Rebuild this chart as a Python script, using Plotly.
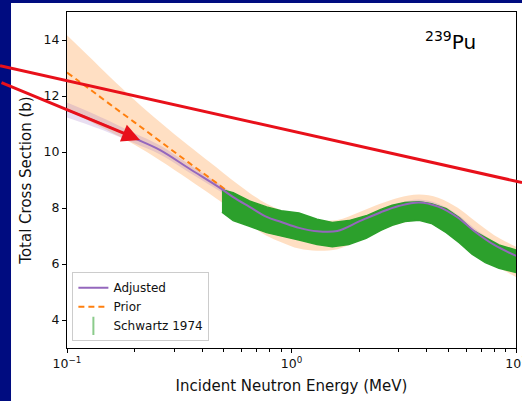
import plotly.graph_objects as go

# ---------------- data ----------------
energy = [0.1, 0.125, 0.155, 0.2, 0.26, 0.35, 0.48, 0.55, 0.65, 0.775, 0.9, 1.08,
          1.3, 1.6, 2.0, 2.5, 3.0, 3.7, 4.5, 5.5, 6.5, 8.0, 10.0]
adjusted = [11.50, 11.20, 10.89, 10.49, 10.07, 9.41, 8.72, 8.39, 8.04, 7.68, 7.50, 7.29,
            7.17, 7.18, 7.52, 7.85, 8.07, 8.20, 8.05, 7.66, 7.18, 6.68, 6.29]
adjusted_err = [0.27, 0.24, 0.21, 0.18, 0.16, 0.14, 0.12, 0.12, 0.11, 0.11, 0.10, 0.10,
                0.10, 0.10, 0.10, 0.10, 0.10, 0.10, 0.10, 0.10, 0.11, 0.12, 0.13]
prior = [12.84, 12.27, 11.71, 11.06, 10.38, 9.61, 8.80, 8.42, 7.98, 7.58, 7.35, 7.12,
         7.02, 7.05, 7.35, 7.68, 7.90, 8.02, 7.90, 7.52, 7.05, 6.50, 6.08]
prior_err = [1.33, 1.15, 0.98, 0.80, 0.68, 0.60, 0.55, 0.55, 0.56, 0.57, 0.57, 0.57,
             0.55, 0.52, 0.50, 0.48, 0.47, 0.46, 0.47, 0.49, 0.51, 0.53, 0.54]

schwartz_energy = [0.49, 0.55, 0.65, 0.775, 0.9, 1.08, 1.3, 1.52, 1.8, 2.15, 2.5, 2.81,
                   3.2, 3.7, 4.2, 4.89, 5.6, 6.37, 7.3, 8.4, 10.0]
schwartz_low = [7.85, 7.55, 7.35, 7.12, 7.00, 6.86, 6.70, 6.62, 6.70, 6.92, 7.20, 7.38,
                7.52, 7.56, 7.45, 7.12, 6.75, 6.35, 6.05, 5.85, 5.70]
schwartz_high = [8.65, 8.55, 8.25, 8.04, 7.90, 7.82, 7.60, 7.48, 7.55, 7.72, 7.95, 8.10,
                 8.20, 8.22, 8.15, 7.98, 7.65, 7.22, 6.95, 6.68, 6.50]

x_tickvals = [0.1, 1, 10]
x_ticktext = ["10<sup>\u22121</sup>", "10<sup>0</sup>", "10<sup>1</sup>"]
x_minor = [0.2, 0.3, 0.4, 0.5, 0.6, 0.7, 0.8, 0.9, 2, 3, 4, 5, 6, 7, 8, 9]
y_tickvals = [4, 6, 8, 10, 12, 14]

# ---------------- styles ----------------
C_ADJ = "#9467bd"
C_PRIOR = "#ff7f0e"
C_DATA = "#2ca02c"
NAVY = "#000c80"
RED = "#e8101a"
FONT = "DejaVu Sans"

fig = go.Figure()

# prior uncertainty band
fig.add_trace(go.Scatter(x=energy, y=[p - e for p, e in zip(prior, prior_err)],
                         mode="lines", line=dict(width=0, shape="spline"),
                         showlegend=False, hoverinfo="skip"))
fig.add_trace(go.Scatter(x=energy, y=[p + e for p, e in zip(prior, prior_err)],
                         mode="lines", line=dict(width=0, shape="spline"),
                         fill="tonexty", fillcolor="rgba(255,127,14,0.25)",
                         showlegend=False, hoverinfo="skip"))
# adjusted uncertainty band
fig.add_trace(go.Scatter(x=energy, y=[a - e for a, e in zip(adjusted, adjusted_err)],
                         mode="lines", line=dict(width=0, shape="spline"),
                         showlegend=False, hoverinfo="skip"))
fig.add_trace(go.Scatter(x=energy, y=[a + e for a, e in zip(adjusted, adjusted_err)],
                         mode="lines", line=dict(width=0, shape="spline"),
                         fill="tonexty", fillcolor="rgba(148,103,189,0.22)",
                         showlegend=False, hoverinfo="skip"))
# prior line
fig.add_trace(go.Scatter(x=energy, y=prior, mode="lines", name="Prior",
                         line=dict(color=C_PRIOR, width=2, dash="6px,4px", shape="spline"),
                         legendrank=2))
# Schwartz 1974 measurement band
poly_x = schwartz_energy + schwartz_energy[::-1]
poly_y = schwartz_high + schwartz_low[::-1]
fig.add_trace(go.Scatter(x=poly_x, y=poly_y, mode="lines", fill="toself",
                         fillcolor=C_DATA, line=dict(color=C_DATA, width=1.5),
                         showlegend=False, hoverinfo="skip"))
fig.add_trace(go.Scatter(x=[None], y=[None], mode="markers", name="Schwartz 1974",
                         marker=dict(symbol="line-ns-open", size=13,
                                     color="rgba(44,160,44,0.55)",
                                     line=dict(color="rgba(44,160,44,0.55)", width=2)),
                         legendrank=3))
# adjusted line
fig.add_trace(go.Scatter(x=energy, y=adjusted, mode="lines", name="Adjusted",
                         line=dict(color=C_ADJ, width=2, shape="spline"),
                         legendrank=1))

axis_common = dict(showline=True, linecolor="black", linewidth=1, mirror=True,
                   ticks="outside", ticklen=4, tickwidth=1, tickcolor="black",
                   showgrid=False, zeroline=False, automargin=False,
                   tickfont=dict(family=FONT, size=12.5, color="#111"))

fig.update_xaxes(type="log", range=[-1, 1], tickmode="array", tickvals=x_tickvals,
                 ticktext=x_ticktext, ticklabeloverflow="allow",
                 minor=dict(tickmode="array", tickvals=x_minor, ticks="outside",
                            ticklen=2.5, tickwidth=1, tickcolor="black"),
                 title=dict(text="Incident Neutron Energy (MeV)",
                            font=dict(family=FONT, size=15, color="#111"), standoff=10),
                 **axis_common)
fig.update_yaxes(range=[3, 15], tickmode="array", tickvals=y_tickvals,
                 title=dict(text="Total Cross Section (b)",
                            font=dict(family=FONT, size=15, color="#111"), standoff=8),
                 **axis_common)

fig.update_layout(
    width=522, height=401, autosize=False,
    margin=dict(l=67, r=6, t=12, b=53, autoexpand=False),
    paper_bgcolor=NAVY, plot_bgcolor="white",
    font=dict(family=FONT, color="#111"),
    legend=dict(x=0.012, y=0.02, xanchor="left", yanchor="bottom",
                bgcolor="rgba(255,255,255,0.8)", bordercolor="#cccccc", borderwidth=1,
                font=dict(family=FONT, size=12, color="#111"), itemwidth=30,
                tracegroupgap=0, traceorder="normal"),
    shapes=[
        dict(type="rect", xref="paper", yref="paper", x0=-0.1247, x1=1.2,
             y0=-0.3, y1=1.0268, fillcolor="white", line=dict(width=0), layer="below"),
        dict(type="line", xref="paper", yref="paper", x0=-0.1492, y0=0.8405,
             x1=1.0134, y1=0.4923, line=dict(color=RED, width=3), layer="above"),
    ],
    annotations=[
        dict(xref="paper", yref="paper", x=0.855, y=0.914, xanchor="center",
             yanchor="middle", showarrow=False, text="<sup>239</sup>Pu",
             font=dict(family=FONT, size=20, color="black")),
        dict(xref="paper", yref="paper", x=0.1626, y=0.619, text="", showarrow=True,
             ax=-140, ay=-58, arrowhead=2, arrowsize=1.2, arrowwidth=3,
             arrowcolor=RED),
    ],
)

fig.write_html("out.html",
               config={"displayModeBar": False, "staticPlot": True},
               post_script="document.body.style.margin='0px';"
                           "document.body.style.overflow='hidden';")
